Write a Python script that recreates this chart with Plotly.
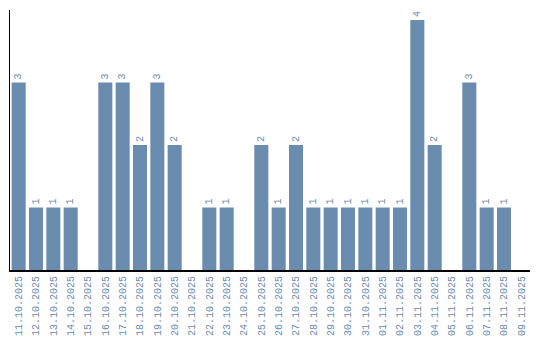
import plotly.graph_objects as go

dates = ["11.10.2025","12.10.2025","13.10.2025","14.10.2025","15.10.2025","16.10.2025",
         "17.10.2025","18.10.2025","19.10.2025","20.10.2025","21.10.2025","22.10.2025",
         "23.10.2025","24.10.2025","25.10.2025","26.10.2025","27.10.2025","28.10.2025",
         "29.10.2025","30.10.2025","31.10.2025","01.11.2025","02.11.2025","03.11.2025",
         "04.11.2025","05.11.2025","06.11.2025","07.11.2025","08.11.2025","09.11.2025"]
counts = [3,1,1,1,0,3,3,2,3,2,0,1,1,0,2,1,2,1,1,1,1,1,1,4,2,0,3,1,1,0]

bar_color = "#6a8caf"
font_family = "Liberation Mono"

labels = [str(v) if v > 0 else "" for v in counts]

fig = go.Figure(go.Bar(
    x=dates, y=counts, marker_color=bar_color, marker_line_width=0,
    text=labels, textposition="outside", textangle=-90,
    textfont=dict(family=font_family, size=10, color=bar_color),
    cliponaxis=False,
))
fig.update_layout(
    width=540, height=340,
    margin=dict(l=10, r=10, t=10, b=70, autoexpand=False),
    plot_bgcolor="white", paper_bgcolor="white",
    bargap=0.19, showlegend=False,
    font=dict(family=font_family, size=10, color=bar_color),
)
fig.update_xaxes(type="category", showline=True, linecolor="black", linewidth=2,
                 showgrid=False, ticks="", tickangle=-90, automargin=False,
                 tickfont=dict(family=font_family, size=10, color=bar_color))
fig.update_yaxes(range=[0, 4.16], showline=True, linecolor="black", linewidth=1,
                 showgrid=False, zeroline=False, showticklabels=False, ticks="",
                 automargin=False)
fig.write_html("out.html")
